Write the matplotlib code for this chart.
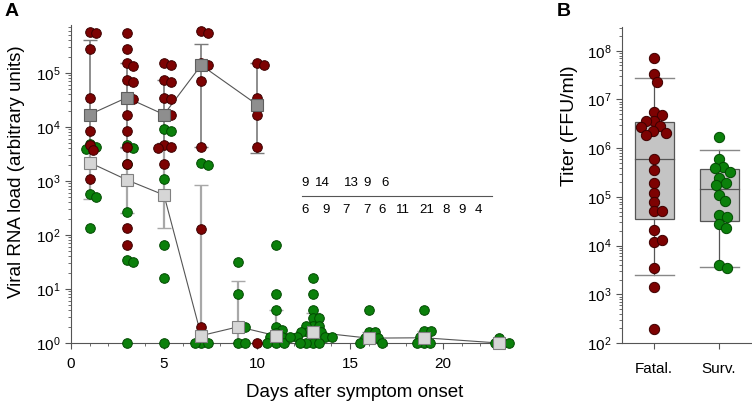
import numpy as np
import matplotlib
matplotlib.use("Agg")
import matplotlib.pyplot as plt
from matplotlib.ticker import LogLocator, MultipleLocator

plt.rcParams['font.family'] = ['Liberation Sans', 'DejaVu Sans']
plt.rcParams['mathtext.default'] = 'regular'

# ---- Panel A data: viral RNA load per day (arbitrary units) ----
fat_days = [1, 3, 5, 7, 10]
fat_vals = [
    [5.8e5, 5.4e5, 2.8e5, 3.5e4, 8.5e3, 4.7e3, 3.7e3, 1.1e3],
    [5.6e5, 2.8e5, 1.5e5, 1.35e5, 7.4e4, 6.8e4, 3.5e4, 3.3e4, 1.7e4, 8.5e3, 4.3e3, 2.1e3, 135, 65],
    [1.55e5, 1.4e5, 7.4e4, 6.8e4, 3.5e4, 3.3e4, 1.7e4, 1.65e4, 4.7e3, 4.3e3, 4.1e3, 2.1e3],
    [6.0e5, 5.5e5, 1.55e5, 1.4e5, 7.1e4, 4.3e3, 130, 2],
    [1.55e5, 1.4e5, 3.5e4, 1.7e4, 4.3e3, 1],
]
fat_med = [1.7e4, 3.5e4, 1.7e4, 1.4e5, 2.6e4]
fat_lo = [4.0e3, 4.3e3, 5.0e3, 4.3e3, 3.3e3]
fat_hi = [4.1e5, 1.5e5, 7.4e4, 3.5e5, 1.5e5]

sur_days = [1, 3, 5, 7, 9, 11, 13, 16, 19, 23]
sur_vals = [
    [4.9e3, 4.3e3, 3.9e3, 575, 500, 135],
    [4.7e3, 4.1e3, 2.1e3, 270, 35, 32, 1],
    [9.1e3, 8.5e3, 1.1e3, 65, 16, 1],
    [2.2e3, 2.0e3, 1, 1, 1],
    [32, 8, 2, 2, 1, 1],
    [65, 8.1, 4, 2, 1.75, 1.5, 1.3, 1.3, 1, 1, 1],
    [16, 8, 4, 2.9, 2.9, 2.1, 2.1, 2.1, 1.6, 1.6, 1.6, 1.6,
     1.3, 1.3, 1.3, 1.3, 1, 1, 1, 1],
    [4, 1.6, 1.6, 1.23, 1.23, 1.23, 1, 1],
    [4, 1.7, 1.7, 1.3, 1.3, 1, 1, 1],
    [1.25, 1, 1, 1],
]
sur_med = [2.2e3, 1.05e3, 550, 1.37, 2.0, 1.37, 1.6, 1.23, 1.25, 1.0]
sur_lo = [470, 260, 135, 1, 1, 1, 1, 1, 1, 1]
sur_hi = [4.3e3, 4.1e3, 4.0e3, 850, 14, 4, 3.6, 1.6, 1.7, 1.0]

fat_n = [9, 14, 13, 9, 6]
sur_n = [6, 9, 7, 7, 6, 11, 21, 8, 9, 4]

# ---- Panel B data: titer (FFU/ml) ----
groups_b = ['Fatal.', 'Surv.']
fat_titer = [7.0e7, 3.3e7, 2.3e7, 5.6e6, 4.8e6, 3.6e6, 3.6e6, 2.8e6, 2.3e6,
             2.7e6, 2.1e6, 1.9e6, 6.0e5, 3.6e5, 1.9e5, 1.2e5, 7.8e4,
             5.1e4, 5.1e4, 2.1e4, 1.2e4, 1.3e4, 3.4e3, 1.4e3, 190]
sur_titer = [1.7e6, 5.9e5, 4.2e5, 4.0e5, 3.3e5, 2.5e5, 1.95e5, 1.75e5,
             1.1e5, 8.4e4, 4.3e4, 3.9e4, 2.8e4, 2.3e4, 4.0e3, 3.4e3]
box_q1 = [3.6e4, 3.2e4]
box_med = [5.9e5, 1.45e5]
box_q3 = [3.4e6, 3.7e5]
box_wlo = [2.5e3, 3.7e3]
box_whi = [2.8e7, 9.1e5]

RED, RED_E = '#7d0202', '#3c0000'
GRN, GRN_E = '#0b800b', '#024a02'


def swarm(vals, px_dec, px_unit, diam=6.5):
    # simple beeswarm: offsets (in data units) so markers do not overlap much
    placed, offs = [], []
    for v in vals:
        y = np.log10(v) * px_dec
        k = 0
        while True:
            cand = ((k + 1) // 2) * 0.5 * (1 if k % 2 else -1)
            if all((cand - px) ** 2 + (y - py) ** 2 >= diam ** 2 for px, py in placed):
                break
            k += 1
        placed.append((cand, y))
        offs.append(cand / px_unit)
    return np.array(offs)


fig = plt.figure(figsize=(7.52, 4.11), dpi=100)
axA = fig.add_axes([71 / 752, 1 - 343 / 411, 442 / 752, 318 / 411])
axB = fig.add_axes([622 / 752, 1 - 343 / 411, 130 / 752, 316 / 411])

# ---- Panel A ----
axA.set_yscale('log')
axA.set_ylim(1, 10 ** (318 / 54))
axA.set_xlim(0, 442 / 18.6)
px_dec_a, px_day = 54.0, 18.6

fat_err = [np.array(fat_med) - np.array(fat_lo), np.array(fat_hi) - np.array(fat_med)]
sur_err = [np.array(sur_med) - np.array(sur_lo), np.array(sur_hi) - np.array(sur_med)]
axA.errorbar(sur_days, sur_med, yerr=sur_err, fmt='none', ecolor='#a8a8a8',
             elinewidth=1.6, capsize=5, capthick=1.0, zorder=1)
axA.errorbar(fat_days, fat_med, yerr=fat_err, fmt='none', ecolor='#7a7a7a',
             elinewidth=1.2, capsize=5, capthick=1.0, zorder=1)
axA.plot(sur_days, sur_med, color='#555555', lw=0.8, zorder=2)
axA.plot(fat_days, fat_med, color='#555555', lw=0.8, zorder=2)

for d, vals in zip(sur_days, sur_vals):
    offs = swarm(vals, px_dec_a, px_day)
    axA.scatter(d + offs, vals, s=48, c=GRN, edgecolors=GRN_E, linewidths=0.7,
                zorder=3, clip_on=False)
for d, vals in zip(fat_days, fat_vals):
    offs = swarm(vals, px_dec_a, px_day)
    axA.scatter(d + offs, vals, s=48, c=RED, edgecolors=RED_E, linewidths=0.7,
                zorder=3, clip_on=False)

axA.plot(sur_days, sur_med, ls='none', marker='s', ms=8, mfc='#d6d6d6',
         mec='#808080', mew=0.8, zorder=4, clip_on=False)
axA.plot(fat_days, fat_med, ls='none', marker='s', ms=8, mfc='#8e8e8e',
         mec='#5e5e5e', mew=0.8, zorder=4, clip_on=False)

for s in ['top', 'right']:
    axA.spines[s].set_visible(False)
for s in ['left', 'bottom']:
    axA.spines[s].set_color('#555555')
    axA.spines[s].set_linewidth(0.8)
axA.xaxis.set_major_locator(MultipleLocator(5))
axA.xaxis.set_minor_locator(MultipleLocator(1))
axA.yaxis.set_major_locator(LogLocator(base=10, numticks=10))
axA.tick_params(which='both', direction='out', colors='#555555', labelcolor='black',
                labelsize=11)
axA.tick_params(which='major', length=4)
axA.tick_params(which='minor', length=2)
axA.tick_params(axis='x', pad=6)
axA.set_xlabel('Days after symptom onset', fontsize=13.5, labelpad=14)
axA.xaxis.set_label_coords((355 - 71) / 442, -0.13)
axA.set_ylabel('Viral RNA load (arbitrary units)', fontsize=13.5, labelpad=4)
axA.yaxis.set_label_coords(-(71 - 25) / 442, (343 - 172) / 318)

# n per day table
fat_x = [305, 322.7, 351.7, 367.3, 385.3]
sur_x = [305, 325.7, 345.7, 367.3, 382.3, 403.3, 426.7, 445.7, 461.7, 478.3]
for n, px in zip(fat_n, fat_x):
    axA.text((px - 71) / 442, (343 - 183) / 318, str(n), transform=axA.transAxes,
             ha='center', va='center', fontsize=9.5)
for n, px in zip(sur_n, sur_x):
    axA.text((px - 71) / 442, (343 - 210) / 318, str(n), transform=axA.transAxes,
             ha='center', va='center', fontsize=9.5)
axA.plot([(302 - 71) / 442, (492 - 71) / 442], [(343 - 196) / 318] * 2,
         transform=axA.transAxes, color='#555555', lw=0.8)

# ---- Panel B ----
axB.set_yscale('log')
axB.set_ylim(1e2, 10 ** (2 + 316 / 48.7))
axB.set_xlim(1 - 32 / 65, 1 + 98 / 65)
px_dec_b, px_unit_b = 48.7, 65.0

for i, (pos, vals, col, ecol) in enumerate(zip([1, 2], [fat_titer, sur_titer],
                                               [RED, GRN], [RED_E, GRN_E])):
    w = 0.3
    axB.add_patch(plt.Rectangle((pos - w, box_q1[i]), 2 * w, box_q3[i] - box_q1[i],
                                facecolor='#c4c4c4', edgecolor='#555555', lw=0.9, zorder=1))
    axB.plot([pos - w, pos + w], [box_med[i]] * 2, color='#555555', lw=0.9, zorder=1)
    axB.plot([pos, pos], [box_wlo[i], box_q1[i]], color='#555555', lw=0.9, zorder=1)
    axB.plot([pos, pos], [box_q3[i], box_whi[i]], color='#555555', lw=0.9, zorder=1)
    axB.plot([pos - w, pos + w], [box_wlo[i]] * 2, color='#888888', lw=1.0, zorder=1)
    axB.plot([pos - w, pos + w], [box_whi[i]] * 2, color='#888888', lw=1.0, zorder=1)
    offs = swarm(vals, px_dec_b, px_unit_b, diam=8.0)
    axB.scatter(pos + offs, vals, s=55, c=col, edgecolors=ecol, linewidths=0.7, zorder=3)

for s in ['top', 'right']:
    axB.spines[s].set_visible(False)
for s in ['left', 'bottom']:
    axB.spines[s].set_color('#555555')
    axB.spines[s].set_linewidth(0.8)
axB.set_xticks([1, 2])
axB.set_xticklabels(groups_b)
axB.yaxis.set_major_locator(LogLocator(base=10, numticks=10))
axB.tick_params(which='both', direction='out', colors='#555555', labelcolor='black',
                labelsize=11)
axB.tick_params(which='major', length=4)
axB.tick_params(which='minor', length=2)
axB.tick_params(axis='x', pad=10)
axB.set_ylabel('Titer (FFU/ml)', fontsize=14, labelpad=4)
axB.yaxis.set_label_coords(-0.34, (343 - 126) / 316)

fig.text(5 / 752, 1 - 12 / 411, 'A', fontsize=14, fontweight='bold', va='center')
fig.text(557 / 752, 1 - 12 / 411, 'B', fontsize=14, fontweight='bold', va='center')

fig.savefig('out.png', dpi=100)
